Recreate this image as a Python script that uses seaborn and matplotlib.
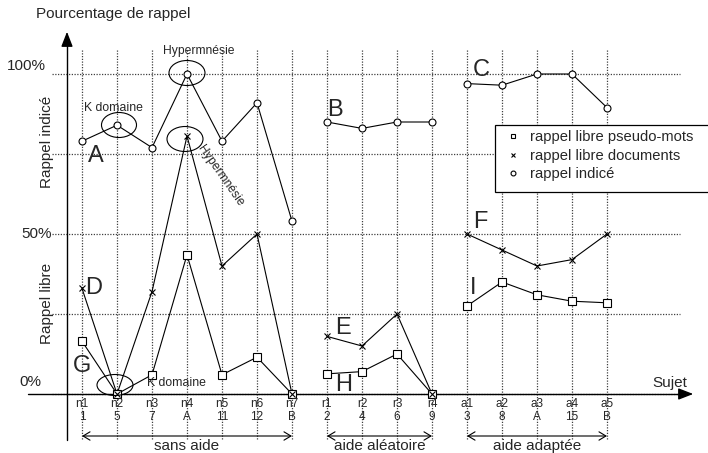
import pandas as pd
import matplotlib
matplotlib.use('Agg')
import matplotlib.pyplot as plt
import seaborn as sns
from matplotlib.lines import Line2D
from matplotlib.patches import Ellipse, Rectangle

# Data
subjects = ['n1', 'n2', 'n3', 'n4', 'n5', 'n6', 'n7',
            'r1', 'r2', 'r3', 'r4',
            'a1', 'a2', 'a3', 'a4', 'a5']
subject_ids = ['1', '5', '7', 'A', '11', '12', 'B',
               '2', '4', '6', '9',
               '3', '8', 'A', '15', 'B']
groups = ['sans aide'] * 7 + ['aide aléatoire'] * 4 + ['aide adaptée'] * 5
pseudo_mots = [16.5, 0, 6, 43.5, 6, 11.5, 0,
               6.3, 7, 12.5, 0,
               27.5, 35, 31, 29, 28.5]
documents = [33, 0, 32, 80.6, 40, 50, 0,
             18, 15, 25, 0,
             50, 45, 40, 42, 50]
indice = [79, 84, 77, 100, 79, 91, 54,
          85, 83, 85, 85,
          97, 96.5, 100, 100, 89.5]
y_ticks = [0, 25, 50, 75, 100]

df = pd.DataFrame({'pos': range(len(subjects)), 'sujet': subjects, 'groupe': groups,
                   'pseudo': pseudo_mots, 'docs': documents, 'indice': indice})

sns.set_style('white')
plt.rcParams['font.family'] = ['Liberation Sans', 'DejaVu Sans']

W, H = 708, 453
fig = plt.figure(figsize=(W / 100, H / 100), dpi=100)
ax = fig.add_axes([0, 0, 1, 1])
# pixel mapping: x = 82 + 35*i ; y = 394 - 3.2*pct
ax.set_xlim(-82 / 35, (W - 82) / 35)
ax.set_ylim((394 - H) / 3.2, 394 / 3.2)
ax.axis('off')

def px(x):
    return (x - 82) / 35

def py(y):
    return (394 - y) / 3.2

# grid
dot = (0, (1, 1.2))
for v in y_ticks:
    ax.plot([px(52), px(680)], [v, v], color='0.25', lw=0.9, ls=dot, zorder=1)
for i in df['pos']:
    ax.plot([i, i], [py(50), py(440)], color='0.25', lw=0.9, ls=dot, zorder=1)

# axes with arrows
ax.plot([px(67), px(67)], [py(440), py(40)], color='black', lw=1)
ax.plot([px(28), px(685)], [0, 0], color='black', lw=1)
ax.annotate('', xy=(px(67), py(29)), xytext=(px(67), py(44)),
            arrowprops=dict(arrowstyle='-|>,head_length=0.9,head_width=0.35', color='black', lw=1))
ax.annotate('', xy=(px(696), 0), xytext=(px(681), 0),
            arrowprops=dict(arrowstyle='-|>,head_length=0.9,head_width=0.35', color='black', lw=1))

# series
common = dict(x='pos', units='groupe', estimator=None, color='black', lw=0.8,
              legend=False, ax=ax, zorder=3)
sns.lineplot(data=df, y='indice', marker='o', ms=5, mfc='white', mec='black', mew=0.8, **common)
sns.lineplot(data=df, y='docs', marker='x', ms=5, mec='black', mew=0.8, **common)
sns.lineplot(data=df, y='pseudo', marker='s', ms=6, mfc='white', mec='black', mew=0.8, **common)
# crosses drawn on top of the squares at 0
zeros = df[df['docs'] == 0]
ax.plot(zeros['pos'], zeros['docs'], 'x', color='black', ms=4, mew=0.8, zorder=5)

# tick labels
for i, (s, n) in enumerate(zip(subjects, subject_ids)):
    ax.text(i, py(404), s, ha='center', va='center', fontsize=8.5)
    ax.text(i, py(417), n, ha='center', va='center', fontsize=8.5)

# group brackets
for g in ['sans aide', 'aide aléatoire', 'aide adaptée']:
    p = df.loc[df['groupe'] == g, 'pos']
    ax.annotate('', xy=(p.min(), py(436)), xytext=(p.max(), py(436)),
                arrowprops=dict(arrowstyle='<->,head_length=0.5,head_width=0.3', color='black', lw=0.8,
                                shrinkA=0, shrinkB=0))
    ax.text((p.min() + p.max()) / 2, py(446), g, ha='center', va='center', fontsize=11)

# axis texts
ax.text(px(36), py(14), 'Pourcentage de rappel', ha='left', va='center', fontsize=11)
ax.text(px(7), py(66), '100%', ha='left', va='center', fontsize=11)
ax.text(px(21), py(234), '50%', ha='left', va='center', fontsize=11)
ax.text(px(19), py(382), '0%', ha='left', va='center', fontsize=11)
ax.text(px(47), py(142), 'Rappel indicé', rotation=90, ha='center', va='center', fontsize=11)
ax.text(px(47), py(303), 'Rappel libre', rotation=90, ha='center', va='center', fontsize=11)
ax.text(px(670), py(383), 'Sujet', ha='center', va='center', fontsize=11)

# big letters
letters = {'A': (96, 156), 'B': (335, 110), 'C': (481, 70), 'D': (94, 288), 'E': (343, 328),
           'F': (480, 222), 'G': (82, 366), 'H': (344, 385), 'I': (473, 288)}
for k, (x, y) in letters.items():
    ax.text(px(x), py(y), k, ha='center', va='center', fontsize=17)

# annotations
ax.text(px(199), py(51), 'Hypermnésie', ha='center', va='center', fontsize=8.7)
ax.text(px(113), py(108), 'K domaine', ha='center', va='center', fontsize=8.8)
ax.text(px(176), py(383), 'K domaine', ha='center', va='center', fontsize=8.8)
ax.text(px(220), py(176), 'Hypermnésie', ha='center', va='center', fontsize=8.7, rotation=-55)
for (cx, cy, w, h) in [(187, 73, 36, 25), (119, 125, 35, 25), (185, 139, 36, 25), (115, 385, 36, 21)]:
    ax.add_patch(Ellipse((px(cx), py(cy)), w / 35, h / 3.2, fill=False, ec='black', lw=0.8, zorder=4))

# legend (frame runs past the right edge, so it is drawn separately)
ax.add_patch(Rectangle((px(495), py(192)), (715 - 495) / 35, (192 - 125) / 3.2,
                       fc='white', ec='black', lw=0.9, zorder=6))
handles = [Line2D([], [], ls='none', marker='s', ms=3.5, mfc='white', mec='black', mew=0.8),
           Line2D([], [], ls='none', marker='x', ms=3.5, mec='black', mew=0.8),
           Line2D([], [], ls='none', marker='o', ms=3.5, mfc='white', mec='black', mew=0.8)]
labels = ['rappel libre pseudo-mots', 'rappel libre documents', 'rappel indicé']
leg = ax.legend(handles, labels, loc='upper left', bbox_to_anchor=(509 / W, 1 - 130 / H),
                bbox_transform=fig.transFigure, borderaxespad=0, borderpad=0, fontsize=10.6,
                frameon=False, handlelength=0.6, handletextpad=0.85, labelspacing=0.32)
leg.set_zorder(7)

fig.savefig('out.png', dpi=100, facecolor='white')
